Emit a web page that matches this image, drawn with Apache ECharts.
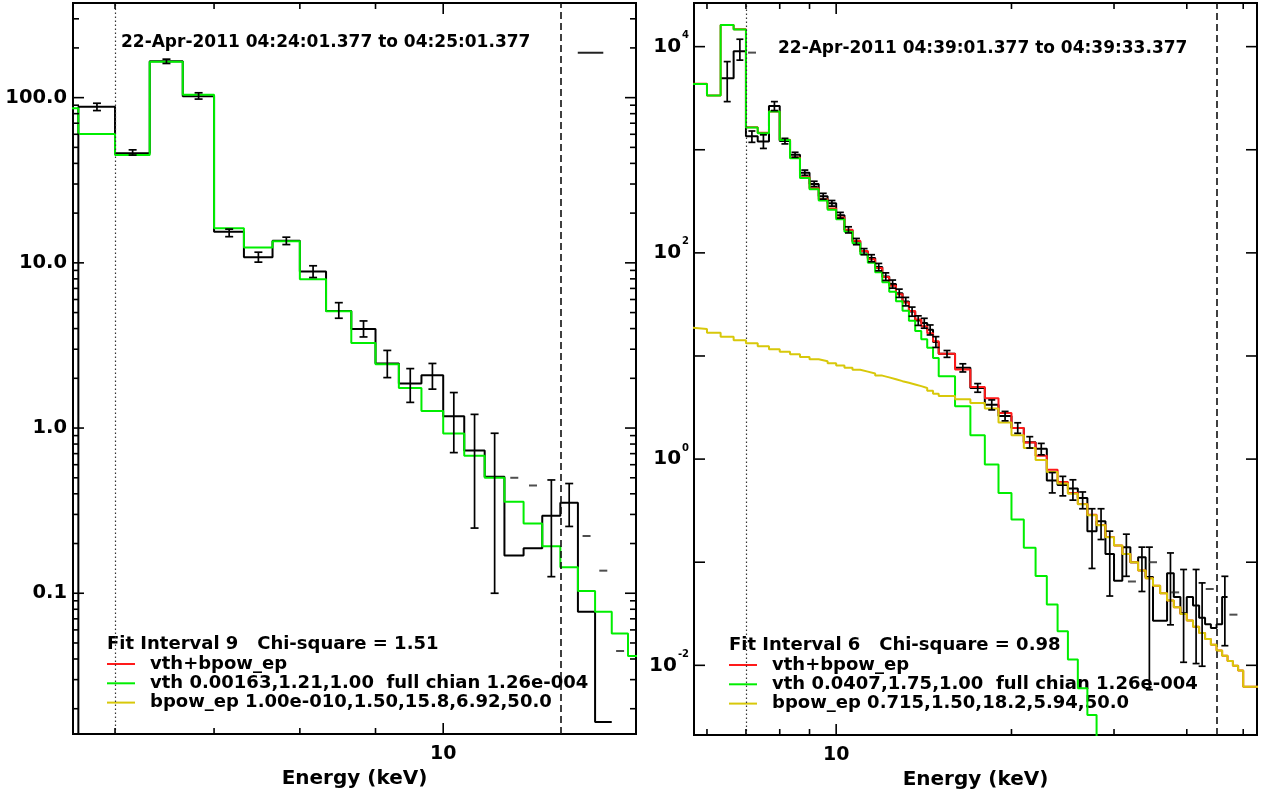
<!DOCTYPE html>
<html>
<head>
<meta charset="utf-8">
<title>Fit intervals 9 and 6</title>
<script src="https://cdn.jsdelivr.net/npm/echarts@6.0.0/dist/echarts.min.js"></script>
<style>
  html, body { margin: 0; padding: 0; background: #fff; }
  #main { width: 1262px; height: 795px; }
</style>
</head>
<body>
<div id="main"></div>
<script>
// ---- left panel: fit interval 9 (1/3 keV bins) ----
const leftEdges = [5.333, 5.667, 6.0, 6.333, 6.667, 7.0, 7.333, 7.667, 8.0, 8.333, 8.667, 9.0, 9.333,
  9.667, 10.0, 10.333, 10.667, 11.0, 11.333, 11.667, 12.0, 12.333, 12.667, 13.0, 13.333, 13.667, 14.0];
const leftData = [0.0001, 88.2, 46, 166, 102, 15.45, 10.8, 13.6, 8.85, 5.11, 3.98, 2.46, 1.86, 2.09,
  1.18, 0.73, 0.507, 0.169, 0.187, 0.294, 0.353, 0.0773, 0.0166, null, null, null];
const leftErrHi = [null, 92.5, 48.3, 171, 107, 16.0, 11.6, 14.3, 9.6, 5.74, 4.45, 2.95, 2.29, 2.46,
  1.64, 1.21, 0.93, null, null, 0.485, 0.4615, null, null, null, null, null];
const leftErrLo = [null, 83.5, 44.9, 161, 98, 14.4, 10.1, 12.9, 8.15, 4.62, 3.56, 2.02, 1.43, 1.72,
  0.71, 0.248, 0.1, null, null, 0.126, 0.2537, null, null, null, null, null];
const leftVth = [86.3, 60.3, 45, 165, 104, 16.2, 12.4, 13.5, 7.96, 5.1, 3.27, 2.43, 1.75, 1.27,
  0.926, 0.68, 0.50, 0.358, 0.264, 0.1923, 0.1439, 0.1032, 0.0773, 0.0571, 0.0417, 0.031];
const leftDashes = [[11.17, 0.50], [11.5, 0.449], [12.5, 0.222], [12.83, 0.137], [13.17, 0.0447]];
const leftTopMark = [[12.33, 187], [12.83, 187]];
const leftMarks = { dotted: 6, dashed: 12 };

// ---- right panel: fit interval 6 (1/3 keV bins to 15 keV, then 1 keV) ----
const rightEdges = [5.333, 5.667, 6.0, 6.333, 6.667, 7.0, 7.333, 7.667, 8.0, 8.333, 8.667, 9.0, 9.333,
  9.667, 10.0, 10.333, 10.667, 11.0, 11.333, 11.667, 12.0, 12.333, 12.667, 13.0, 13.333, 13.667, 14.0,
  14.333, 14.667, 15, 16, 17, 18, 19, 20, 21, 22, 23, 24, 25, 26, 27, 28, 29, 30, 31, 32, 33, 34, 35,
  36, 37, 38, 39, 40, 41, 42, 43, 44, 45, 46, 47, 48, 49, 50, 56];
const rightData = [null, null, null, 4940, 9000, 1350, 1202, 2663, 1215, 893, 597, 466, 354, 302,
  232, 167, 129, 103, 89, 72.9, 59, 50, 40.7, 33.8, 27, 22.1, 20.9, 18, 13.7,
  10.5, 7.7, 4.9, 3.37, 2.62, 2.0, 1.46, 1.26, 0.62, 0.56, 0.52, 0.42, 0.20, 0.25, 0.12, 0.066,
  0.14, 0.10, 0.112, 0.072, 0.027, 0.027, 0.078, 0.046, 0.032, 0.046, 0.038, 0.029, 0.025, 0.023,
  0.025, 0.046, null, null, null, null];
const rightErrHi = [null, null, null, 7160, 11800, 1520, 1396, 2930, 1290, 945, 635, 495, 378, 322,
  247, 179, 138, 110, 96, 79, 64, 54.5, 44.5, 37, 29.8, 24.5, 23.2, 20, 15.4,
  11.3, 8.4, 5.4, 3.75, 2.9, 2.25, 1.65, 1.42, 0.74, 0.68, 0.63, 0.48, 0.33, 0.33, 0.2, null,
  0.187, null, 0.14, 0.14, null, null, 0.123, null, 0.085, null, 0.085, 0.063, null, null,
  null, 0.073, null, null, null, null];
const rightErrLo = [null, null, null, 2930, 7400, 1180, 1030, 2400, 1140, 845, 565, 440, 332, 284,
  217, 156, 120, 96, 82, 67, 54, 45.5, 37, 30.6, 24.3, 19.8, 18.6, 16, 12.1,
  9.7, 7.0, 4.45, 3.0, 2.35, 1.78, 1.28, 1.1, 0.47, 0.44, 0.40, 0.33, 0.087, 0.166, 0.047, null,
  0.073, null, 0.052, 0.0058, null, null, 0.0247, null, 0.0107, null, 0.0104, 0.0098, null, null,
  null, 0.0155, null, null, null, null];
const rightTotal = [4370, 4368, 3367, 16215, 14714, 1654, 1461, 2356, 1251, 839, 541, 424, 331, 270,
  220, 168, 131, 104, 86.8, 71.5, 58.2, 48, 39.7, 33, 27.3, 22.6, 19.4, 16.6, 13.9,
  10.5, 7.4, 5.0, 3.9, 2.8, 2.0, 1.45, 1.08, 0.79, 0.6, 0.47, 0.366, 0.288, 0.23, 0.176, 0.145,
  0.12, 0.1, 0.083, 0.07, 0.059, 0.05, 0.0425, 0.0365, 0.0315, 0.0272, 0.0236, 0.0206, 0.018, 0.0158,
  0.0139, 0.0124, 0.011, 0.0099, 0.0089, 0.0062];
const rightVth = [4350, 4350, 3350, 16200, 14700, 1641, 1449, 2344, 1240, 829, 531, 415, 322, 262,
  212, 160, 124, 97, 80, 65, 52, 42, 34, 27.5, 22, 17.5, 14.5, 12, 9.55,
  6.35, 3.25, 1.7, 0.885, 0.47, 0.26, 0.138, 0.0735, 0.039, 0.0214, 0.0114, 0.006, 0.0033, 0.0015,
  null, null, null, null, null, null, null, null, null, null, null, null, null, null, null, null,
  null, null, null, null, null, null];
const rightBpow = [18.8, 18.3, 16.8, 15.4, 14.2, 13.3, 12.4, 11.6, 11.0, 10.4, 9.8, 9.3, 8.9, 8.5,
  8.1, 7.7, 7.35, 7.05, 6.75, 6.45, 6.2, 5.95, 5.7, 5.5, 5.3, 5.1, 4.9, 4.6, 4.3,
  4.1, 3.8, 3.5, 3.1, 2.27, 1.7, 1.28, 0.98, 0.75, 0.58, 0.46, 0.365, 0.285, 0.228, 0.175, 0.145,
  0.12, 0.1, 0.083, 0.07, 0.059, 0.05, 0.0425, 0.0365, 0.0315, 0.0272, 0.0236, 0.0206, 0.018, 0.0158,
  0.0139, 0.0124, 0.011, 0.0099, 0.0089, 0.0062];
const rightDashes = [[7.17, 8750], [32.2, 0.065], [35.0, 0.10], [38.2, 0.051], [43.8, 0.055], [48.1, 0.031]];
const rightMarks = { dotted: 7, dashed: 45 };

// ---- ticks and labels ----
const leftXTicks = [[6, 0], [7, 0], [8, 0], [9, 0], [10, 1]];
const rightXTicks = [[6, 0], [7, 0], [8, 0], [9, 0], [10, 1], [20, 0], [30, 0], [40, 0], [50, 0]];
const leftYTicks = [[0.02, 0], [0.03, 0], [0.04, 0], [0.05, 0], [0.06, 0], [0.07, 0], [0.08, 0], [0.09, 0],
  [0.1, 1], [0.2, 0], [0.3, 0], [0.4, 0], [0.5, 0], [0.6, 0], [0.7, 0], [0.8, 0], [0.9, 0],
  [1, 1], [2, 0], [3, 0], [4, 0], [5, 0], [6, 0], [7, 0], [8, 0], [9, 0],
  [10, 1], [20, 0], [30, 0], [40, 0], [50, 0], [60, 0], [70, 0], [80, 0], [90, 0],
  [100, 1], [200, 0], [300, 0]];
const rightYTicks = [[0.01, 1], [0.1, 1], [1, 1], [10, 1], [100, 1], [1000, 1], [10000, 1]];
const leftYLabelVals = [0.1, 1, 10, 100];
const leftYLabelText = ['0.1', '1.0', '10.0', '100.0'];
const rightYLabelVals = [0.01, 1, 100, 10000];
const rightYLabelExp = ['-2', '0', '2', '4'];
const xLabelVals = [10];

const FONT = '"DejaVu Sans", sans-serif';
const GREEN = '#00ee00', RED = '#ff1a1a', YELLOW = '#d8c80a';

function stepPoints(edges, vals) {
  const pts = [];
  let last = -1;
  vals.forEach((v, i) => {
    if (v == null) return;
    pts.push([edges[i], v]);
    last = i;
  });
  if (last >= 0) pts.push([edges[last + 1], vals[last]]);
  return pts;
}

function errPoints(edges, lo, hi) {
  const out = [];
  hi.forEach((h, i) => {
    if (h == null) return;
    out.push([(edges[i] + edges[i + 1]) / 2, lo[i], h]);
  });
  return out;
}

function isNear(v, list) {
  return list.findIndex(t => Math.abs(Math.log10(v) - Math.log10(t)) < 1e-4);
}

function histSeries(idx, pts, color, z, width) {
  return {
    type: 'line', xAxisIndex: idx, yAxisIndex: idx, data: pts, step: 'end',
    showSymbol: false, symbol: 'none', clip: true, z: z, silent: true, animation: false,
    lineStyle: { color: color, width: width || 2 }
  };
}

function errSeries(idx, data, cap) {
  return {
    type: 'custom', xAxisIndex: idx, yAxisIndex: idx, data: data, clip: true, z: 6,
    silent: true, animation: false, encode: { x: 0, y: [1, 2] },
    renderItem(params, api) {
      const x = api.value(0);
      const top = api.coord([x, api.value(2)]);
      const bot = api.coord([x, api.value(1)]);
      const st = { stroke: '#000', lineWidth: 1.7 };
      return {
        type: 'group', children: [
          { type: 'line', shape: { x1: top[0], y1: top[1], x2: bot[0], y2: bot[1] }, style: st },
          { type: 'line', shape: { x1: top[0] - cap, y1: top[1], x2: top[0] + cap, y2: top[1] }, style: st },
          { type: 'line', shape: { x1: bot[0] - cap, y1: bot[1], x2: bot[0] + cap, y2: bot[1] }, style: st }
        ]
      };
    }
  };
}

function tickSeries(idx, dir, ticks, ref) {
  return {
    type: 'custom', xAxisIndex: idx, yAxisIndex: idx, z: 8, silent: true, animation: false,
    data: ticks.map(t => dir === 'x' ? [t[0], ref, t[1]] : [ref, t[0], t[1]]),
    encode: { x: 0, y: 1 },
    renderItem(params, api) {
      const cs = params.coordSys;
      const len = api.value(2) ? 11 : 6;
      const p = api.coord([api.value(0), api.value(1)]);
      const st = { stroke: '#000', lineWidth: 1.6 };
      let a, b;
      if (dir === 'x') {
        a = { x1: p[0], y1: cs.y + cs.height, x2: p[0], y2: cs.y + cs.height - len };
        b = { x1: p[0], y1: cs.y, x2: p[0], y2: cs.y + len };
      } else {
        a = { x1: cs.x, y1: p[1], x2: cs.x + len, y2: p[1] };
        b = { x1: cs.x + cs.width, y1: p[1], x2: cs.x + cs.width - len, y2: p[1] };
      }
      return { type: 'group', children: [
        { type: 'line', shape: a, style: st },
        { type: 'line', shape: b, style: st }
      ] };
    }
  };
}

function dashSeries(idx, data, w) {
  return {
    type: 'scatter', xAxisIndex: idx, yAxisIndex: idx, data: data, symbol: 'rect',
    symbolSize: [w, 2], z: 6, silent: true, animation: false, itemStyle: { color: '#222' }
  };
}

function markSeries(idx, marks) {
  return {
    type: 'line', xAxisIndex: idx, yAxisIndex: idx, data: [], z: 1, silent: true, animation: false,
    markLine: {
      silent: true, symbol: 'none', animation: false, label: { show: false },
      data: [
        { xAxis: marks.dotted, lineStyle: { color: '#333', width: 1.2, type: [1.5, 2.5] } },
        { xAxis: marks.dashed, lineStyle: { color: '#111', width: 1.6, type: [7, 4] } }
      ]
    }
  };
}

const xAxisBase = {
  type: 'log', logBase: 10,
  axisLine: { show: false }, axisTick: { show: false }, splitLine: { show: false },
  axisLabel: {
    margin: 11, color: '#000', fontFamily: FONT, fontWeight: 'bold', fontSize: 19,
    formatter: v => (isNear(v, xLabelVals) >= 0 ? '10' : '')
  },
  name: 'Energy (keV)', nameLocation: 'middle', nameGap: 34,
  nameTextStyle: { color: '#000', fontFamily: FONT, fontWeight: 'bold', fontSize: 20 }
};

const yAxisBase = {
  type: 'log', logBase: 10,
  axisLine: { show: false }, axisTick: { show: false }, splitLine: { show: false }
};

function legendBlock(x, y, header, rows) {
  const font = 'bold 18px ' + FONT;
  const els = [{
    type: 'text', x: x, y: y,
    style: { text: header, fill: '#000', font: font, textVerticalAlign: 'middle', verticalAlign: 'middle' }
  }];
  rows.forEach((r, i) => {
    const ry = y + 20 + i * 19.3;
    els.push({ type: 'line', shape: { x1: x, y1: ry, x2: x + 28, y2: ry }, style: { stroke: r.color, lineWidth: 2 } });
    els.push({
      type: 'text', x: x + 43, y: ry,
      style: { text: r.text, fill: '#000', font: font, textVerticalAlign: 'middle', verticalAlign: 'middle' }
    });
  });
  return els;
}

const chart = echarts.init(document.getElementById('main'), null, { renderer: 'canvas' });

const option = {
  animation: false,
  backgroundColor: '#fff',
  grid: [
    { left: 73, top: 3, width: 563, height: 731, show: true, borderColor: '#000', borderWidth: 2, backgroundColor: 'transparent' },
    { left: 694, top: 3, width: 563, height: 732, show: true, borderColor: '#000', borderWidth: 2, backgroundColor: 'transparent' }
  ],
  xAxis: [
    Object.assign({}, xAxisBase, { gridIndex: 0, min: 5.62, max: 13.5 }),
    Object.assign({}, xAxisBase, { gridIndex: 1, min: 5.70, max: 52.8 })
  ],
  yAxis: [
    Object.assign({}, yAxisBase, {
      gridIndex: 0, min: 0.01406, max: 374,
      axisLabel: {
        margin: 6, color: '#000', fontFamily: FONT, fontWeight: 'bold', fontSize: 19.5,
        formatter: v => { const k = isNear(v, leftYLabelVals); return k >= 0 ? leftYLabelText[k] : ''; }
      }
    }),
    Object.assign({}, yAxisBase, {
      gridIndex: 1, min: 0.00211, max: 26500,
      axisLabel: {
        margin: 5, color: '#000',
        formatter: v => { const k = isNear(v, rightYLabelVals); return k >= 0 ? '{b|10}{s|' + rightYLabelExp[k] + '}' : ''; },
        rich: {
          b: { fontFamily: FONT, fontWeight: 'bold', fontSize: 20, color: '#000' },
          s: { fontFamily: FONT, fontWeight: 'bold', fontSize: 10, color: '#000', verticalAlign: 'top', padding: [0, 0, 22, 1] }
        }
      }
    })
  ],
  series: [
    markSeries(0, leftMarks),
    histSeries(0, stepPoints(leftEdges, leftData), '#000', 2),
    histSeries(0, leftTopMark, '#222', 2),
    histSeries(0, stepPoints(leftEdges, leftVth), GREEN, 4),
    errSeries(0, errPoints(leftEdges, leftErrLo, leftErrHi), 4),
    dashSeries(0, leftDashes, 8),
    tickSeries(0, 'x', leftXTicks, 1),
    tickSeries(0, 'y', leftYTicks, 10),

    markSeries(1, rightMarks),
    histSeries(1, stepPoints(rightEdges, rightData), '#000', 2),
    histSeries(1, stepPoints(rightEdges, rightTotal), RED, 3),
    histSeries(1, stepPoints(rightEdges, rightVth), GREEN, 4),
    histSeries(1, stepPoints(rightEdges, rightBpow), YELLOW, 5),
    errSeries(1, errPoints(rightEdges, rightErrLo, rightErrHi), 3.5),
    dashSeries(1, rightDashes, 8),
    tickSeries(1, 'x', rightXTicks, 1),
    tickSeries(1, 'y', rightYTicks, 10)
  ],
  graphic: [
    { type: 'text', x: 121, y: 43, style: { text: '22-Apr-2011 04:24:01.377 to 04:25:01.377', fill: '#000',
      font: 'bold 17px ' + FONT, textVerticalAlign: 'middle', verticalAlign: 'middle' } },
    { type: 'text', x: 778, y: 49, style: { text: '22-Apr-2011 04:39:01.377 to 04:39:33.377', fill: '#000',
      font: 'bold 17px ' + FONT, textVerticalAlign: 'middle', verticalAlign: 'middle' } }
  ].concat(
    legendBlock(107, 644, 'Fit Interval 9   Chi-square = 1.51', [
      { color: RED, text: 'vth+bpow_ep' },
      { color: GREEN, text: 'vth 0.00163,1.21,1.00  full chian 1.26e-004' },
      { color: YELLOW, text: 'bpow_ep 1.00e-010,1.50,15.8,6.92,50.0' }
    ]),
    legendBlock(729, 645, 'Fit Interval 6   Chi-square = 0.98', [
      { color: RED, text: 'vth+bpow_ep' },
      { color: GREEN, text: 'vth 0.0407,1.75,1.00  full chian 1.26e-004' },
      { color: YELLOW, text: 'bpow_ep 0.715,1.50,18.2,5.94,50.0' }
    ])
  )
};

chart.setOption(option);
</script>
</body>
</html>
